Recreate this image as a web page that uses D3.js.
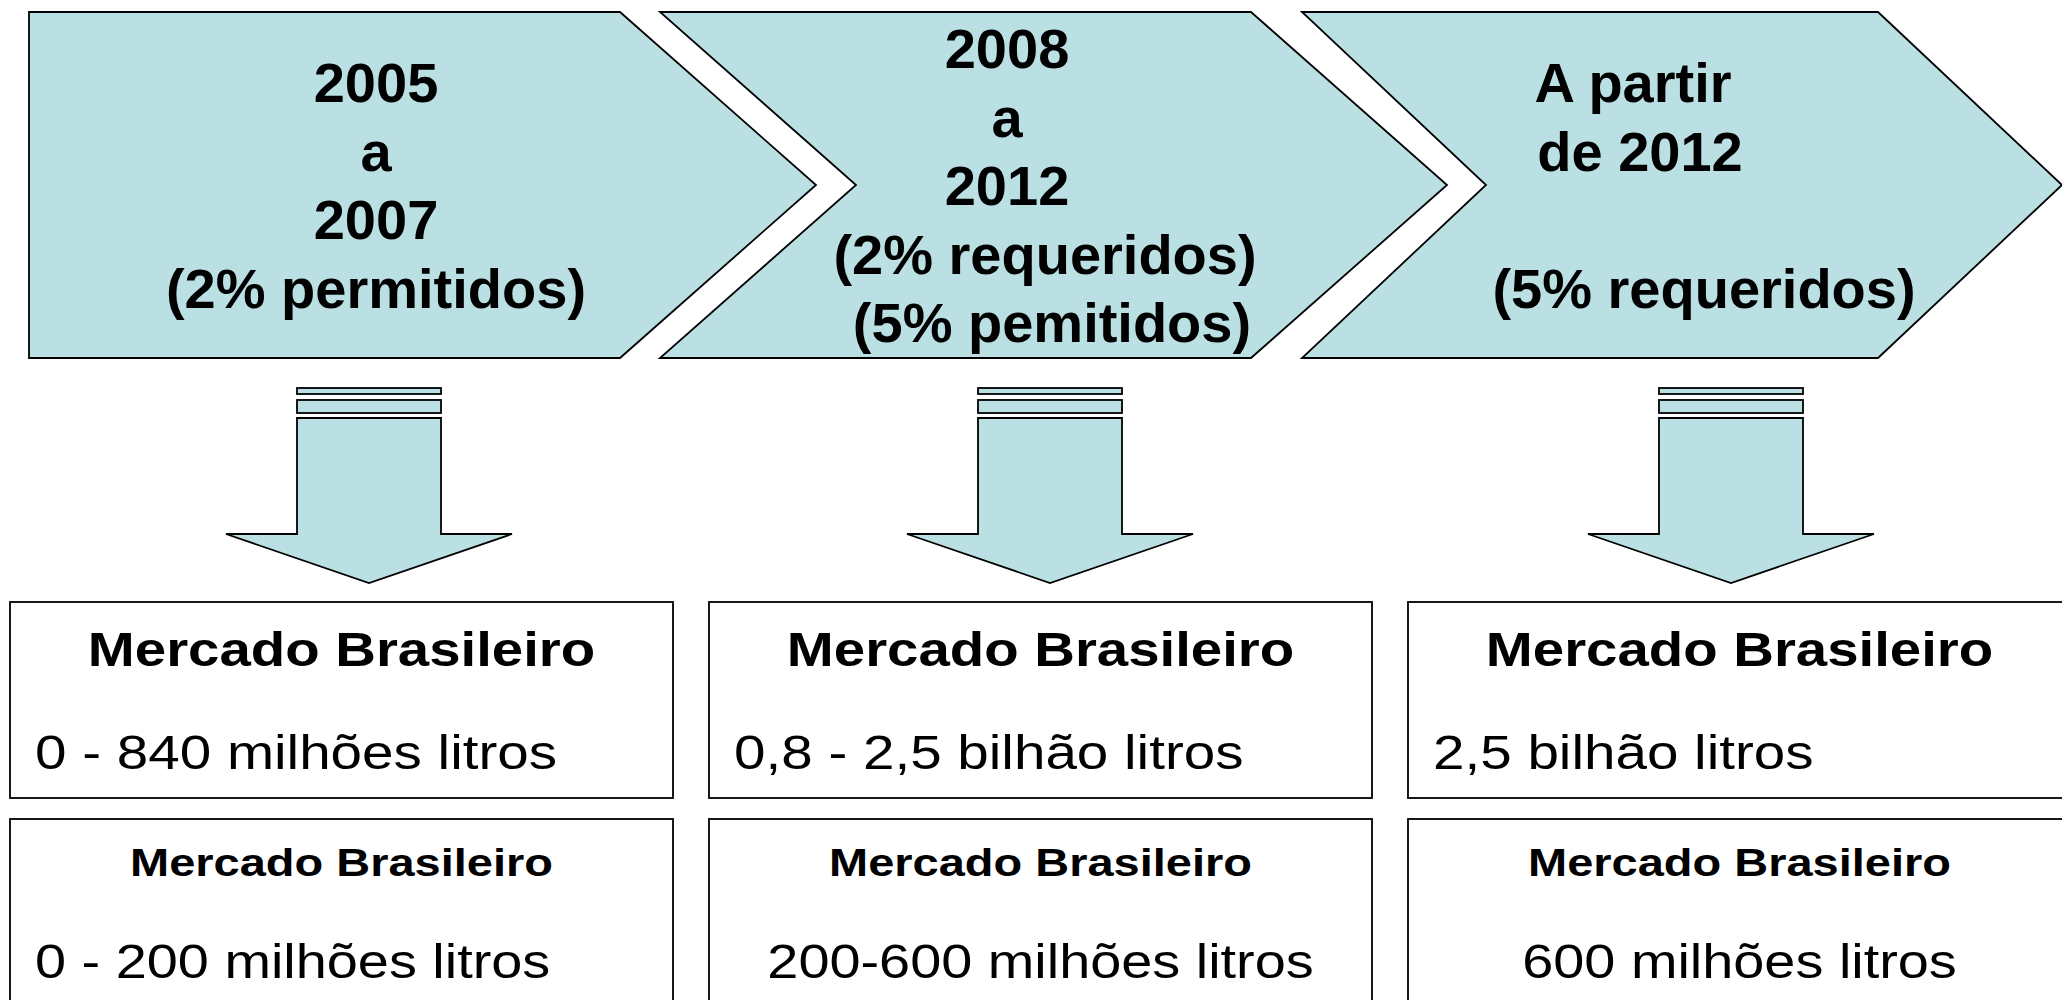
<!DOCTYPE html>
<html>
<head>
<meta charset="utf-8">
<script src="https://cdn.jsdelivr.net/npm/d3@7"></script>
<style>
  body { margin: 0; background: #fff; overflow: hidden; }
  text { font-family: "Liberation Sans", Arial, sans-serif; fill: #000; }
</style>
</head>
<body>
<div id="chart"></div>
<script>
var width = 2062, height = 1000;

// stages (chevrons)
const stages = ['2005-2007', '2008-2012', '2012+'];
const stageLines = [
  ['2005', 'a', '2007', '(2% permitidos)'],
  ['2008', 'a', '2012', '(2% requeridos)', '(5% pemitidos)'],
  ['A partir', 'de 2012', '', '(5% requeridos)']
];
// market boxes
const marketTitle = ['Mercado Brasileiro', 'Mercado Brasileiro', 'Mercado Brasileiro'];
const volumeTop = ['0 - 840 milhões litros', '0,8 - 2,5 bilhão litros', '2,5 bilhão litros'];
const volumeBottom = ['0 - 200 milhões litros', '200-600 milhões litros', '600 milhões litros'];

// layout bits (not data)
const chevX = [29, 660, 1302];       // left edge
const chevBody = [591, 591, 576];    // width before the point
const chevTip = [196, 196, 184];     // depth of the point
const lineShift = [[0, 0, 0, 0], [0, 0, 0, 38, 45], [-16, -9, 0, 55]];
const bottomAnchor = ['start', 'middle', 'middle'];

const fillBlue = '#bbe0e3';
const stroke = '#000';

let svg = d3.select('#chart')
  .append('svg')
  .attr('width', width)
  .attr('height', height)

// --- chevrons
let chevTop = 12, chevBot = 358, chevMid = (chevTop + chevBot) / 2;
let lineH = 68.5;

let chev = svg.selectAll('g.chev')
  .data(stages)
  .enter()
  .append('g')
  .attr('class', 'chev')

chev.append('path')
  .attr('d', (d, i) => {
    let x0 = chevX[i], x1 = x0 + chevBody[i], xt = x1 + chevTip[i];
    let notch = i == 0 ? 0 : chevTip[i];
    return d3.line()([
      [x0, chevTop], [x1, chevTop], [xt, chevMid], [x1, chevBot], [x0, chevBot], [x0 + notch, chevMid]
    ]) + 'Z';
  })
  .attr('fill', fillBlue)
  .attr('stroke', stroke)
  .attr('stroke-width', 1.8)
  .attr('stroke-linejoin', 'miter')

chev.each(function (d, i) {
  let lines = stageLines[i];
  let n = lines.length;
  d3.select(this).selectAll('text')
    .data(lines)
    .enter()
    .append('text')
    .attr('x', (t, j) => chevX[i] + 347 + lineShift[i][j])
    .attr('y', (t, j) => 205 + (j - (n - 1) / 2) * lineH)
    .attr('text-anchor', 'middle')
    .attr('font-weight', 'bold')
    .attr('font-size', 56)
    .text(t => t)
})

// --- down arrows
let arrowX = d3.scalePoint().domain(stages).range([369, 1731]);
let shaftW = 72, headW = 143;

let arr = svg.selectAll('g.arrow')
  .data(stages)
  .enter()
  .append('g')
  .attr('class', 'arrow')
  .attr('transform', d => `translate(${arrowX(d)},0)`)

arr.append('rect')
  .attr('x', -shaftW).attr('y', 388)
  .attr('width', shaftW * 2).attr('height', 6)
  .attr('fill', fillBlue).attr('stroke', stroke).attr('stroke-width', 1.8)

arr.append('rect')
  .attr('x', -shaftW).attr('y', 400)
  .attr('width', shaftW * 2).attr('height', 13)
  .attr('fill', fillBlue).attr('stroke', stroke).attr('stroke-width', 1.8)

arr.append('path')
  .attr('d', d3.line()([
    [-shaftW, 418], [shaftW, 418], [shaftW, 534], [headW, 534],
    [0, 583], [-headW, 534], [-shaftW, 534]
  ]) + 'Z')
  .attr('fill', fillBlue).attr('stroke', stroke).attr('stroke-width', 1.8)

// --- market boxes
let boxX = d3.scalePoint().domain(stages).range([10, 1408]);
let boxW = 663;

let box = svg.selectAll('g.box')
  .data(stages)
  .enter()
  .append('g')
  .attr('class', 'box')
  .attr('transform', d => `translate(${boxX(d)},0)`)

box.append('rect')
  .attr('x', 0).attr('y', 602)
  .attr('width', boxW).attr('height', 196)
  .attr('fill', '#fff').attr('stroke', stroke).attr('stroke-width', 1.8)

box.append('rect')
  .attr('x', 0).attr('y', 819)
  .attr('width', boxW).attr('height', 220)
  .attr('fill', '#fff').attr('stroke', stroke).attr('stroke-width', 1.8)

// text is a bit wider than the font here, so stretch it
let stretched = (sel, x, y, sx, anchor, size, bold, txt) => {
  sel.append('text')
    .attr('transform', (d, i) => `translate(${typeof x == 'function' ? x(i) : x},${y}) scale(${sx},1)`)
    .attr('text-anchor', typeof anchor == 'function' ? (d, i) => anchor(i) : anchor)
    .attr('font-size', size)
    .attr('font-weight', bold ? 'bold' : 'normal')
    .text((d, i) => txt[i])
}

stretched(box, boxW / 2, 666, 1.15, 'middle', 49, true, marketTitle)
stretched(box, 25, 769, 1.155, 'start', 49, false, volumeTop)
stretched(box, boxW / 2, 876, 1.22, 'middle', 38.5, true, marketTitle)
stretched(box, i => bottomAnchor[i] == 'start' ? 25 : boxW / 2, 978, 1.14,
  i => bottomAnchor[i], 49, false, volumeBottom)
</script>
</body>
</html>
